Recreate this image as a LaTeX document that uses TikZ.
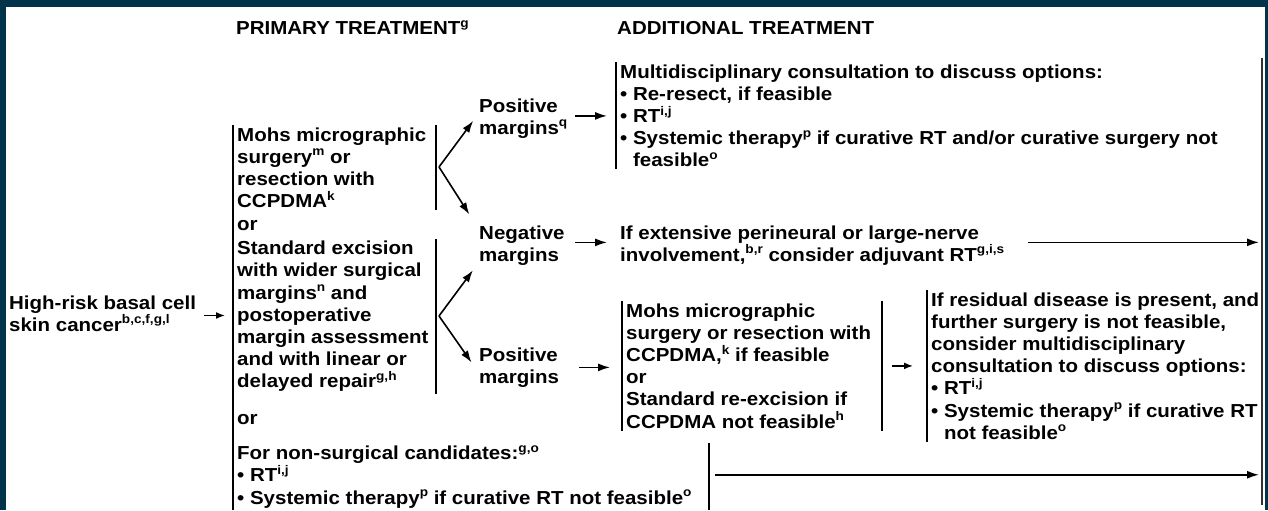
\documentclass[tikz,border=0pt]{standalone}
\usepackage{fontspec}
\newfontfamily\chartfont{Liberation Sans}[FakeStretch=1.09]
\usepackage{xcolor}
\usetikzlibrary{arrows.meta}
\definecolor{frameteal}{RGB}{1,52,74}
\newcommand{\fnsup}[1]{\raisebox{7.5pt}{\fontsize{12.5}{12.5}\selectfont #1}}
\newcommand{\bul}{\textbullet\ }
\tikzstyle{txt} = [align=left, anchor=north west, inner xsep=4pt, inner ysep=2pt,
    font=\chartfont\bfseries\fontsize{18.8}{22.2}\selectfont]
\tikzstyle{word} = [txt, anchor=base west]
\tikzstyle{bar} = [draw, line width=1.5pt]
\tikzstyle{rightbar} = [draw=black!80, line width=2.4pt]
\tikzstyle{line} = [draw, -{Latex[length=12pt,width=8pt]}, line width=1.6pt]
\tikzstyle{shortline} = [draw, -{Latex[length=9pt,width=7pt]}, line width=1.6pt]

\begin{document}
\begin{tikzpicture}[x=1pt, y=-1pt]
    % Frame
    \fill[frameteal] (0,0) rectangle (1268,510);
    \fill[white] (6,7) rectangle (1265,510);
    % Place nodes
    \node [word] (headP) at (232,35) {PRIMARY TREATMENT\fnsup{g}};
    \node [word] (headA) at (613,35) {ADDITIONAL TREATMENT};
    \node [txt] (hr) at (5,293.3) {High-risk basal cell\\skin cancer\fnsup{b,c,f,g,l}};
    \node [txt] (mohs) at (233,125.3) {Mohs micrographic\\surgery\fnsup{m} or\\resection with\\CCPDMA\fnsup{k}};
    \node [word] (or1) at (233,231) {or};
    \node [txt] (excis) at (233,238.8) {Standard excision\\with wider surgical\\margins\fnsup{n} and\\postoperative\\margin assessment\\and with linear or\\delayed repair\fnsup{g,h}};
    \node [word] (or2) at (233,424) {or};
    \node [txt] (nonsurg) at (233,443.3) {For non-surgical candidates:\fnsup{g,o}\\\bul RT\fnsup{i,j}\\\bul Systemic therapy\fnsup{p} if curative RT not feasible\fnsup{o}};
    \node [txt] (pos1) at (475,96.3) {Positive\\margins\fnsup{q}};
    \node [txt] (neg) at (475,223.3) {Negative\\margins};
    \node [txt] (pos2) at (475,345.3) {Positive\\margins};
    \node [txt] (multi) at (616,62.3) {Multidisciplinary consultation to discuss options:\\\bul Re-resect, if feasible\\\bul RT\fnsup{i,j}\\\bul Systemic therapy\fnsup{p} if curative RT and/or curative surgery not\\\phantom{\bul}feasible\fnsup{o}};
    \node [txt] (ext) at (616,223.3) {If extensive perineural or large-nerve\\involvement,\fnsup{b,r} consider adjuvant RT\fnsup{g,i,s}};
    \node [txt] (mohs2) at (622,301.3) {Mohs micrographic\\surgery or resection with\\CCPDMA,\fnsup{k} if feasible\\or\\Standard re-excision if\\CCPDMA not feasible\fnsup{h}};
    \node [txt] (resid) at (927,290.3) {If residual disease is present, and\\further surgery is not feasible,\\consider multidisciplinary\\consultation to discuss options:\\\bul RT\fnsup{i,j}\\\bul Systemic therapy\fnsup{p} if curative RT\\\phantom{\bul}not feasible\fnsup{o}};
    \coordinate (rb1) at (436,0);
    \coordinate (rb2) at (882,0);
    \coordinate (rb3) at (709,0);
    \coordinate (rtop) at (1262,58);
    \coordinate (rbot) at (1262,505);
    \coordinate (fk1) at (439,167);
    \coordinate (fk2) at (439,316);
    % Draw brackets
    \path [bar] (mohs.north west) -- (nonsurg.south west);
    \path [bar] (mohs.north -| rb1) -- (mohs.south -| rb1);
    \path [bar] (excis.north -| rb1) -- (excis.south -| rb1);
    \path [bar] (nonsurg.north -| rb3) -- (nonsurg.south -| rb3);
    \path [bar] (multi.north west) -- (multi.south west);
    \path [bar] (mohs2.north west) -- (mohs2.south west);
    \path [bar] (mohs2.north -| rb2) -- (mohs2.south -| rb2);
    \path [bar] (resid.north west) -- (resid.south west);
    \path [rightbar] (rtop) -- (rbot);
    % Draw edges
    \coordinate (hrout) at ([yshift=-2pt]hr.east);
    \path [shortline, shorten <=4pt, shorten >=8pt] (hrout) -- (hrout -| excis.west);
    \path [line, shorten >=3pt] (fk1) -- (pos1.west);
    \path [line, shorten >=10.5pt] (fk1) -- (neg.north west);
    \path [line, shorten >=3.5pt] (fk2) -- (neg.south west);
    \path [line, shorten >=6pt] (fk2) -- (pos2.west);
    \coordinate (pos1out) at ([yshift=2.5pt]pos1.east);
    \path [line, shorten <=4pt, shorten >=9pt] (pos1out) -- (pos1out -| multi.west);
    \coordinate (negout) at ([yshift=3pt]neg.east);
    \path [line, shorten <=6pt, shorten >=9pt] (negout) -- (negout -| ext.west);
    \path [line, shorten <=16pt, shorten >=12pt] (pos2.east) -- (pos2.east -| mohs2.west);
    \path [shortline, shorten <=10pt, shorten >=14pt] (mohs2.east -| rb2) -- (mohs2.east -| resid.west);
    \coordinate (extout) at ([yshift=3pt]ext.east);
    \path [line, shorten <=20pt, shorten >=3pt] (extout) -- (extout -| rtop);
    \coordinate (nsout) at ([yshift=2pt]nonsurg.east);
    \path [line, shorten <=6pt, shorten >=3pt] (nsout -| rb3) -- (nsout -| rtop);
\end{tikzpicture}
\end{document}
